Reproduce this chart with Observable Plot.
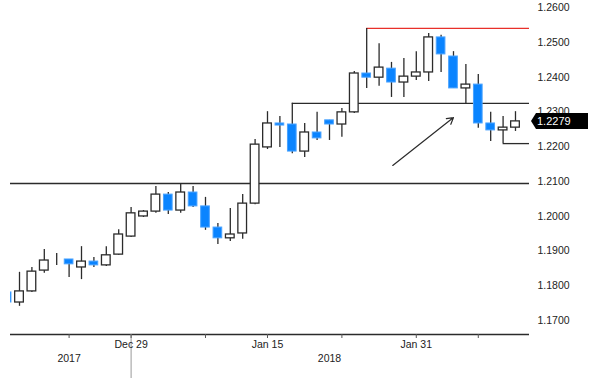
<!DOCTYPE html>
<html>
<head>
<meta charset="utf-8">
<script src="https://cdn.jsdelivr.net/npm/d3@7"></script>
<script src="https://cdn.jsdelivr.net/npm/@observablehq/plot@0.6"></script>
<style>
  body { margin: 0; background: #fff; }
  #chart svg { display: block; }
</style>
</head>
<body>
<div id="chart"></div>
<script>
// ---- data (EUR/USD daily candles) ----
const dates = [
  "2017-12-15","2017-12-18","2017-12-19","2017-12-20","2017-12-21","2017-12-22",
  "2017-12-25","2017-12-26","2017-12-27","2017-12-28","2017-12-29",
  "2018-01-01","2018-01-02","2018-01-03","2018-01-04","2018-01-05",
  "2018-01-08","2018-01-09","2018-01-10","2018-01-11","2018-01-12",
  "2018-01-15","2018-01-16","2018-01-17","2018-01-18","2018-01-19",
  "2018-01-22","2018-01-23","2018-01-24","2018-01-25","2018-01-26",
  "2018-01-29","2018-01-30","2018-01-31","2018-02-01","2018-02-02",
  "2018-02-05","2018-02-06","2018-02-07","2018-02-08","2018-02-09","2018-02-12"
];
const openP  = [1.1786,1.1757,1.1789,1.1849,1.1881,1.1881,1.1858,1.1875,1.1864,1.1895,1.1947,1.2005,1.2019,1.2068,1.2022,1.2074,1.2034,1.1973,1.1942,1.1956,1.2042,1.2204,1.2273,1.2270,1.2192,1.2247,1.2282,1.2270,1.2305,1.2417,1.2405,1.2431,1.2391,1.2408,1.2420,1.2521,1.2466,1.2374,1.2385,1.2273,1.2253,1.2261];
const highP  = [1.1797,1.1844,1.1858,1.1910,1.1898,1.1881,1.1918,1.1887,1.1918,1.1967,1.2031,1.2022,1.2091,1.2074,1.2100,1.2091,1.2060,1.1985,1.2028,1.2068,1.2227,1.2307,1.2293,1.2273,1.2273,1.2305,1.2282,1.2316,1.2423,1.2417,1.2503,1.2449,1.2460,1.2480,1.2532,1.2527,1.2480,1.2443,1.2414,1.2305,1.2293,1.2307];
const lowP   = [1.1751,1.1746,1.1786,1.1841,1.1864,1.1829,1.1823,1.1858,1.1861,1.1893,1.1944,1.2002,1.2014,1.2011,1.2014,1.2031,1.1965,1.1924,1.1933,1.1939,1.2039,1.2198,1.2204,1.2186,1.2175,1.2224,1.2224,1.2233,1.2302,1.2374,1.2380,1.2348,1.2348,1.2397,1.2394,1.2420,1.2374,1.2328,1.2259,1.2221,1.2218,1.2250];
const closeP = [1.1757,1.1789,1.1846,1.1878,1.1881,1.1867,1.1875,1.1864,1.1893,1.1953,1.2014,1.2019,1.2068,1.2022,1.2074,1.2034,1.1973,1.1942,1.1953,1.2042,1.2212,1.2273,1.2267,1.2192,1.2247,1.2230,1.2270,1.2305,1.2417,1.2405,1.2434,1.2391,1.2408,1.2420,1.2521,1.2472,1.2374,1.2385,1.2273,1.2253,1.2261,1.2279];

const priceTicks = [1.17,1.18,1.19,1.20,1.21,1.22,1.23,1.24,1.25,1.26];
const dateTicks = ["2017-12-22","2017-12-29","2018-01-08","2018-01-15","2018-01-23","2018-01-31","2018-02-07"];
const dateTickLabels = ["","Dec 29","","Jan 15","","Jan 31",""];
const yearLabelDates = ["2017-12-22","2018-01-22"];
const yearLabels = ["2017","2018"];
const yearBreakDate = "2017-12-29";

// annotation levels
const supportLevel = 1.2100;
const resistanceLevel = 1.2331, resistanceFrom = "2018-01-17";
const peakLevel = 1.2547, peakFrom = "2018-01-25";
const floorLevel = 1.2215, floorFrom = "2018-02-09";
const arrowSpec = {x1: 31.1, y1: 1.2152, x2: 36.0, y2: 1.2290};

// ---- build ----
const idx = d => dates.indexOf(d);
const rows = dates.map((d, i) => ({i, date: d, open: openP[i], high: highP[i], low: lowP[i], close: closeP[i]}));
const xDomain = [0.274, 42.13];
const yDomain = [1.16648, 1.26274];
const dark = "#2b2b2b";
const blue = "#0a84ff";

const plot = Plot.plot({
  width: 600,
  height: 380,
  marginLeft: 10,
  marginRight: 71,
  marginTop: 0,
  marginBottom: 46,
  x: {domain: xDomain, axis: null},
  y: {domain: yDomain, axis: null},
  style: {fontFamily: "Liberation Sans, Arial, sans-serif", fontSize: "10.5px", color: "#222", background: "white"},
  marks: [
    Plot.ruleY([supportLevel], {stroke: dark, strokeWidth: 1.3}),
    Plot.ruleY([resistanceLevel], {x1: idx(resistanceFrom), x2: xDomain[1], stroke: dark, strokeWidth: 1.3}),
    Plot.ruleX([idx(resistanceFrom)], {y1: highP[idx(resistanceFrom)], y2: resistanceLevel, stroke: dark, strokeWidth: 1.3}),
    Plot.ruleY([peakLevel], {x1: idx(peakFrom), x2: xDomain[1], stroke: "#e8302a", strokeWidth: 1.3}),
    Plot.ruleX([idx(peakFrom)], {y1: highP[idx(peakFrom)], y2: peakLevel, stroke: dark, strokeWidth: 1.3}),
    Plot.ruleY([floorLevel], {x1: idx(floorFrom), x2: xDomain[1], stroke: dark, strokeWidth: 1.3}),
    Plot.ruleX([idx(floorFrom)], {y1: lowP[idx(floorFrom)], y2: floorLevel, stroke: dark, strokeWidth: 1.3}),
    // wicks
    Plot.ruleX(rows, {x: "i", y1: "low", y2: "high", stroke: dark, strokeWidth: 1.3, clip: true}),
    // bodies
    Plot.rect(rows, {
      x1: d => d.i - 0.35, x2: d => d.i + 0.35,
      y1: "open", y2: "close",
      fill: d => d.close < d.open ? blue : "white",
      stroke: d => d.close < d.open ? "#4aa3ff" : dark,
      strokeWidth: d => d.close < d.open ? 1 : 1.3,
      clip: true
    }),
    Plot.arrow([arrowSpec], {x1: "x1", y1: "y1", x2: "x2", y2: "y2", stroke: dark, strokeWidth: 1.2, headLength: 9}),
    Plot.ruleY([yDomain[0]], {stroke: dark, strokeWidth: 1.5}),
    Plot.axisX([idx(yearBreakDate)], {x: d => d, tickSize: 44, stroke: "#999", tickFormat: () => ""}),
    Plot.axisX(dateTicks.map(idx), {tickSize: 4, tickPadding: 2, stroke: "#555",
      tickFormat: i => dateTickLabels[dateTicks.indexOf(dates[i])], fill: "#222"}),
    Plot.axisX(yearLabelDates.map(idx), {tickSize: 0, tickPadding: 20,
      tickFormat: i => yearLabels[yearLabelDates.indexOf(dates[i])], fill: "#222"}),
    Plot.axisY(priceTicks, {anchor: "right", tickSize: 0, tickPadding: 8, textAnchor: "start",
      tickFormat: d => d.toFixed(4), dy: -2, fill: "#222"})
  ]
});

// last-price tag
const svg = d3.select(plot);
const ys = plot.scale("y");
const xs = plot.scale("x");
const last = closeP[closeP.length - 1];
const tagX = xs.range[1] + 2;
const tagY = ys.apply(last);
const tag = svg.append("g").attr("transform", `translate(${tagX},${tagY})`);
tag.append("path").attr("d", "M0,0 L5,-8 H57 V8 H5 Z").attr("fill", "#000");
tag.append("text").attr("x", 6).attr("dy", "0.36em").attr("fill", "#fff")
  .attr("text-anchor", "start")
  .attr("font-family", "Liberation Sans, Arial, sans-serif").attr("font-size", "11px")
  .text(last.toFixed(4));

document.getElementById("chart").appendChild(plot);
</script>
</body>
</html>
